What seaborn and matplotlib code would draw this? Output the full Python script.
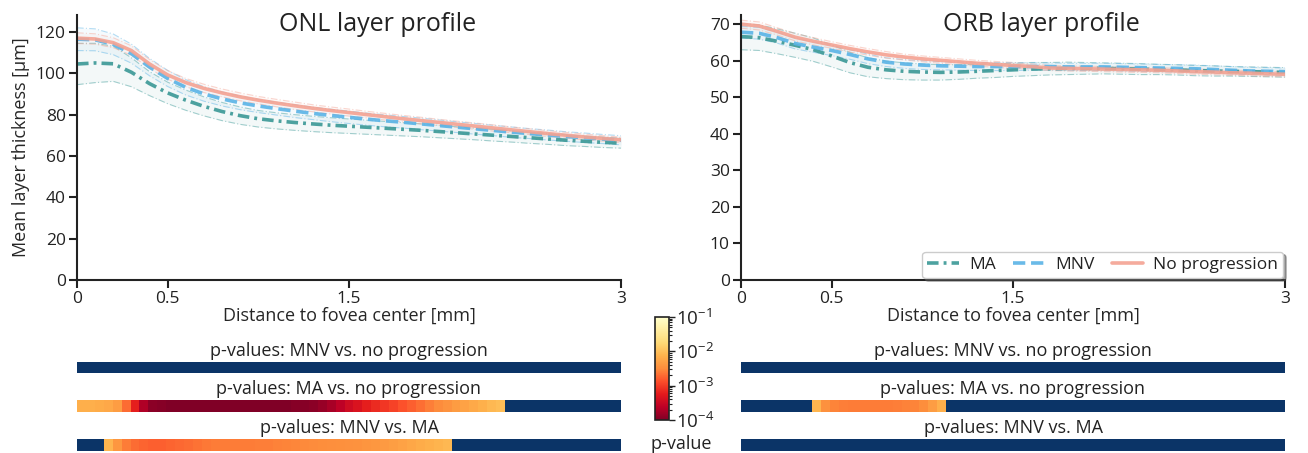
import numpy as np
import pandas as pd
import matplotlib
matplotlib.use("Agg")
import matplotlib.pyplot as plt
import seaborn as sns
from matplotlib.colors import LogNorm
from matplotlib.cm import ScalarMappable
from matplotlib.ticker import LogLocator, LogFormatterSciNotation

# ---------------- data ----------------
dist_mm = [0.0, 0.1, 0.2, 0.3, 0.4, 0.5, 0.6, 0.7, 0.8, 0.9, 1.0,
           1.1, 1.2, 1.3, 1.4, 1.5, 1.6, 1.7, 1.8, 1.9, 2.0,
           2.1, 2.2, 2.3, 2.4, 2.5, 2.6, 2.7, 2.8, 2.9, 3.0]
groups = ["MA", "MNV", "No progression"]

onl_ma = [104.5, 105.0, 104.6, 100.5, 95.0, 90.5, 87.0, 84.0, 81.5, 79.5, 78.0,
          77.0, 76.2, 75.5, 74.9, 74.4, 73.9, 73.4, 72.9, 72.4, 71.8,
          71.2, 70.6, 70.0, 69.4, 68.8, 68.2, 67.6, 67.1, 66.6, 66.2]
onl_mnv = [116.5, 116.2, 114.0, 109.5, 103.0, 97.5, 93.2, 90.0, 87.6, 85.7, 84.2,
           82.9, 81.7, 80.6, 79.6, 78.7, 77.8, 77.0, 76.3, 75.5, 74.7,
           73.9, 73.1, 72.3, 71.5, 70.8, 70.1, 69.4, 68.8, 68.2, 67.6]
onl_noprog = [117.0, 116.6, 114.8, 111.0, 104.5, 99.2, 95.5, 92.7, 90.5, 88.6, 87.0,
              85.6, 84.3, 83.1, 82.0, 81.0, 80.0, 79.0, 78.0, 77.1, 76.2,
              75.3, 74.4, 73.5, 72.6, 71.7, 70.8, 70.0, 69.2, 68.5, 67.8]
onl_ma_sd = [10.0, 9.5, 8.5, 7.0, 5.8, 5.2, 4.9, 4.6, 4.4, 4.2, 4.0,
             3.9, 3.8, 3.7, 3.6, 3.5, 3.4, 3.3, 3.2, 3.1, 3.0,
             2.9, 2.8, 2.8, 2.7, 2.7, 2.6, 2.6, 2.5, 2.5, 2.4]
onl_mnv_sd = [5.5, 5.3, 5.0, 4.6, 4.2, 3.9, 3.7, 3.5, 3.4, 3.3, 3.2,
              3.1, 3.1, 3.0, 3.0, 3.0, 2.9, 2.9, 2.8, 2.8, 2.7,
              2.6, 2.6, 2.5, 2.5, 2.4, 2.4, 2.3, 2.3, 2.2, 2.2]
onl_noprog_sd = [2.6, 2.5, 2.4, 2.3, 2.2, 2.1, 2.0, 2.0, 1.9, 1.9, 1.8,
                 1.8, 1.8, 1.7, 1.7, 1.7, 1.6, 1.6, 1.6, 1.6, 1.5,
                 1.5, 1.5, 1.5, 1.4, 1.4, 1.4, 1.4, 1.4, 1.3, 1.3]

orb_ma = [66.6, 66.3, 65.3, 64.2, 63.0, 61.3, 59.5, 58.2, 57.5, 57.1, 56.9,
          56.8, 56.9, 57.1, 57.3, 57.5, 57.7, 57.8, 57.9, 57.9, 57.9,
          57.8, 57.7, 57.6, 57.5, 57.3, 57.2, 57.1, 57.0, 56.9, 56.8]
orb_mnv = [67.8, 67.5, 66.3, 64.7, 63.7, 62.8, 61.7, 60.5, 59.6, 59.1, 58.8,
           58.6, 58.5, 58.4, 58.4, 58.4, 58.4, 58.4, 58.3, 58.3, 58.3,
           58.2, 58.1, 58.0, 57.9, 57.8, 57.6, 57.4, 57.2, 57.1, 57.0]
orb_noprog = [70.0, 69.5, 68.0, 66.4, 65.3, 64.3, 63.3, 62.4, 61.6, 61.0, 60.5,
              60.1, 59.7, 59.3, 59.0, 58.7, 58.4, 58.0, 57.9, 57.8, 57.7,
              57.6, 57.5, 57.4, 57.2, 57.0, 56.9, 56.7, 56.6, 56.4, 56.3]
orb_ma_sd = [3.6, 3.5, 3.4, 3.3, 3.2, 3.0, 2.8, 2.6, 2.4, 2.3, 2.2,
             2.1, 2.0, 1.9, 1.9, 1.8, 1.8, 1.7, 1.7, 1.6, 1.5,
             1.5, 1.5, 1.4, 1.4, 1.4, 1.4, 1.3, 1.3, 1.3, 1.3]
orb_mnv_sd = [1.6, 1.6, 1.5, 1.5, 1.4, 1.4, 1.3, 1.3, 1.2, 1.2, 1.2,
              1.1, 1.1, 1.1, 1.1, 1.1, 1.0, 1.0, 1.0, 1.0, 1.0,
              1.0, 1.0, 1.0, 1.0, 1.0, 1.0, 1.0, 1.0, 1.0, 1.0]
orb_noprog_sd = [1.1, 1.1, 1.0, 1.0, 1.0, 0.9, 0.9, 0.9, 0.9, 0.8, 0.8,
                 0.8, 0.8, 0.8, 0.8, 0.8, 0.7, 0.7, 0.7, 0.7, 0.7,
                 0.7, 0.7, 0.7, 0.7, 0.7, 0.7, 0.7, 0.7, 0.7, 0.7]

# p-values sampled every 0.05 mm from 0 to 3 mm (61 samples); > 0.1 = not significant
onl_p_mnv_noprog = [0.5, 0.5, 0.5, 0.5, 0.5, 0.5, 0.5, 0.5, 0.5, 0.5,
                    0.5, 0.5, 0.5, 0.5, 0.5, 0.5, 0.5, 0.5, 0.5, 0.5,
                    0.5, 0.5, 0.5, 0.5, 0.5, 0.5, 0.5, 0.5, 0.5, 0.5,
                    0.5, 0.5, 0.5, 0.5, 0.5, 0.5, 0.5, 0.5, 0.5, 0.5,
                    0.5, 0.5, 0.5, 0.5, 0.5, 0.5, 0.5, 0.5, 0.5, 0.5,
                    0.5, 0.5, 0.5, 0.5, 0.5, 0.5, 0.5, 0.5, 0.5, 0.5, 0.5]
onl_p_ma_noprog = [7e-3, 7e-3, 6.5e-3, 6e-3, 4.5e-3, 2e-3, 6e-4, 2e-4, 1.2e-4, 1.1e-4,
                   1e-4, 1e-4, 1e-4, 1e-4, 1e-4, 1e-4, 1e-4, 1e-4, 1e-4, 1e-4,
                   1e-4, 1e-4, 1e-4, 1e-4, 1.1e-4, 1.1e-4, 1.2e-4, 1.4e-4, 1.8e-4, 2.5e-4,
                   3.5e-4, 4.5e-4, 6e-4, 7.5e-4, 9e-4, 1.1e-3, 1.4e-3, 1.7e-3, 2.1e-3, 2.6e-3,
                   3.1e-3, 3.7e-3, 4.4e-3, 5.2e-3, 6.2e-3, 7.2e-3, 8.5e-3, 9.5e-3, 0.3, 0.3,
                   0.3, 0.3, 0.3, 0.3, 0.3, 0.3, 0.3, 0.3, 0.3, 0.3, 0.3]
onl_p_mnv_ma = [0.3, 0.3, 0.3, 8e-3, 4e-3, 2.5e-3, 2e-3, 1.8e-3, 1.7e-3, 1.7e-3,
                1.8e-3, 1.9e-3, 2e-3, 2.2e-3, 2.4e-3, 2.5e-3, 2.5e-3, 2.5e-3, 2.5e-3, 2.5e-3,
                2.6e-3, 2.6e-3, 2.7e-3, 2.8e-3, 2.9e-3, 3e-3, 3.1e-3, 3.2e-3, 3.3e-3, 3.4e-3,
                3.5e-3, 3.6e-3, 3.8e-3, 4e-3, 4.3e-3, 4.7e-3, 5.2e-3, 5.8e-3, 6.5e-3, 7.2e-3,
                7.8e-3, 8.5e-3, 0.3, 0.3, 0.3, 0.3, 0.3, 0.3, 0.3, 0.3,
                0.3, 0.3, 0.3, 0.3, 0.3, 0.3, 0.3, 0.3, 0.3, 0.3, 0.3]
orb_p_mnv_noprog = [0.5, 0.5, 0.5, 0.5, 0.5, 0.5, 0.5, 0.5, 0.5, 0.5,
                    0.5, 0.5, 0.5, 0.5, 0.5, 0.5, 0.5, 0.5, 0.5, 0.5,
                    0.5, 0.5, 0.5, 0.5, 0.5, 0.5, 0.5, 0.5, 0.5, 0.5,
                    0.5, 0.5, 0.5, 0.5, 0.5, 0.5, 0.5, 0.5, 0.5, 0.5,
                    0.5, 0.5, 0.5, 0.5, 0.5, 0.5, 0.5, 0.5, 0.5, 0.5,
                    0.5, 0.5, 0.5, 0.5, 0.5, 0.5, 0.5, 0.5, 0.5, 0.5, 0.5]
orb_p_ma_noprog = [0.3, 0.3, 0.3, 0.3, 0.3, 0.3, 0.3, 0.3, 8e-3, 3.5e-3,
                   2.8e-3, 2.6e-3, 2.5e-3, 2.5e-3, 2.5e-3, 2.5e-3, 2.5e-3, 2.6e-3, 2.7e-3, 2.8e-3,
                   3.2e-3, 4.5e-3, 7e-3, 0.3, 0.3, 0.3, 0.3, 0.3, 0.3, 0.3,
                   0.3, 0.3, 0.3, 0.3, 0.3, 0.3, 0.3, 0.3, 0.3, 0.3,
                   0.3, 0.3, 0.3, 0.3, 0.3, 0.3, 0.3, 0.3, 0.3, 0.3,
                   0.3, 0.3, 0.3, 0.3, 0.3, 0.3, 0.3, 0.3, 0.3, 0.3, 0.3]
orb_p_mnv_ma = [0.5, 0.5, 0.5, 0.5, 0.5, 0.5, 0.5, 0.5, 0.5, 0.5,
                0.5, 0.5, 0.5, 0.5, 0.5, 0.5, 0.5, 0.5, 0.5, 0.5,
                0.5, 0.5, 0.5, 0.5, 0.5, 0.5, 0.5, 0.5, 0.5, 0.5,
                0.5, 0.5, 0.5, 0.5, 0.5, 0.5, 0.5, 0.5, 0.5, 0.5,
                0.5, 0.5, 0.5, 0.5, 0.5, 0.5, 0.5, 0.5, 0.5, 0.5,
                0.5, 0.5, 0.5, 0.5, 0.5, 0.5, 0.5, 0.5, 0.5, 0.5, 0.5]

strip_titles = ["p-values: MNV vs. no progression",
                "p-values: MA vs. no progression",
                "p-values: MNV vs. MA"]
x_ticks = [0, 0.5, 1.5, 3]
x_ticklabels = ["0", "0.5", "1.5", "3"]

# ---------------- style ----------------
sns.set_theme(style="ticks")
FONT = "Open Sans"
plt.rcParams["font.family"] = [FONT, "DejaVu Sans"]
plt.rcParams["mathtext.fontset"] = "custom"
plt.rcParams["mathtext.rm"] = FONT
plt.rcParams["mathtext.it"] = FONT
plt.rcParams["axes.edgecolor"] = "#222222"
plt.rcParams["axes.linewidth"] = 1.5
plt.rcParams["text.color"] = "#222222"
plt.rcParams["xtick.color"] = "#222222"
plt.rcParams["ytick.color"] = "#222222"

palette = {"MA": "#3a9896", "MNV": "#5ab3e6", "No progression": "#f4a292"}
dashes = {"MA": (3.2, 1.4, 0.8, 1.4), "MNV": (3.4, 1.6), "No progression": ""}

cmap = plt.get_cmap("YlOrRd_r").copy()
cmap.set_over("#0b3467")
cmap.set_under("#800026")
norm = LogNorm(vmin=1e-4, vmax=1e-1)

W, H = 1308, 453
fig = plt.figure(figsize=(W / 100, H / 100), dpi=100)


def px_axes(x0, x1, ytop, ybot):
    return fig.add_axes([x0 / W, 1 - ybot / H, (x1 - x0) / W, (ybot - ytop) / H])


def profile(ax, means, sds, title, ylim, yticks, legend):
    rows = []
    for g, m in zip(groups, means):
        for xv, yv in zip(dist_mm, m):
            rows.append({"dist": xv, "thickness": yv, "group": g})
    df = pd.DataFrame(rows)
    for g, m, s in zip(groups, means, sds):
        m = np.asarray(m)
        s = np.asarray(s)
        c = palette[g]
        ax.fill_between(dist_mm, m - s, m + s, color=c, alpha=0.06, lw=0)
        for b in (m - s, m + s):
            ax.plot(dist_mm, b, color=c, lw=0.8, alpha=0.45, ls=(0, (6, 2, 1, 2)))
    sns.lineplot(data=df, x="dist", y="thickness", hue="group", style="group",
                 palette=palette, dashes=dashes, linewidth=2.6, ax=ax,
                 legend=legend, alpha=0.9)
    ax.set_xlim(0, 3)
    ax.set_ylim(*ylim)
    ax.set_yticks(yticks)
    ax.set_xticks(x_ticks)
    ax.set_xticklabels(x_ticklabels)
    ax.tick_params(labelsize=12.5, length=6, width=1.5, pad=2)
    ax.set_xlabel("Distance to fovea center [mm]", fontsize=13, labelpad=0)
    ax.text(0.552, 0.94, title, transform=ax.transAxes, ha="center",
            va="baseline", fontsize=18)
    sns.despine(ax=ax)


ax1 = px_axes(77, 621, 15, 280)
profile(ax1, [onl_ma, onl_mnv, onl_noprog], [onl_ma_sd, onl_mnv_sd, onl_noprog_sd],
        "ONL layer profile", (0, 128.2), [0, 20, 40, 60, 80, 100, 120], False)
ax1.set_ylabel("Mean layer thickness [µm]", fontsize=13, labelpad=4)

ax2 = px_axes(741, 1285, 15, 280)
profile(ax2, [orb_ma, orb_mnv, orb_noprog], [orb_ma_sd, orb_mnv_sd, orb_noprog_sd],
        "ORB layer profile", (0, 72.5), [0, 10, 20, 30, 40, 50, 60, 70], "auto")
ax2.set_ylabel("")
leg = ax2.legend(loc="lower right", ncol=3, fontsize=12.5, frameon=True, shadow=True,
                 fancybox=True, borderaxespad=0.1, handlelength=1.8,
                 columnspacing=1.0, handletextpad=0.6, borderpad=0.3, title=None)
leg.get_frame().set_edgecolor("#cccccc")
for h in leg.get_lines():
    h.set_linewidth(2.6)

# ---------------- p-value strips ----------------
strip_rows = [(362, 373), (400, 412), (439, 451)]
for (x0, x1), pv_list in [((77, 621), [onl_p_mnv_noprog, onl_p_ma_noprog, onl_p_mnv_ma]),
                          ((741, 1285), [orb_p_mnv_noprog, orb_p_ma_noprog, orb_p_mnv_ma])]:
    for (yt, yb), pv, ttl in zip(strip_rows, pv_list, strip_titles):
        sax = px_axes(x0, x1, yt, yb)
        sns.heatmap(np.array([pv]), ax=sax, cmap=cmap, norm=norm, cbar=False,
                    xticklabels=False, yticklabels=False)
        sax.set_title(ttl, fontsize=13, pad=4)

# ---------------- colorbar ----------------
cax = px_axes(655, 669, 317, 420)
cb = fig.colorbar(ScalarMappable(norm=norm, cmap=cmap), cax=cax)
cb.outline.set_edgecolor("#222222")
cb.outline.set_linewidth(1.2)
cb.ax.yaxis.set_major_locator(LogLocator(base=10))
cb.ax.yaxis.set_major_formatter(LogFormatterSciNotation())
cb.ax.tick_params(labelsize=13.5, length=4, width=1.0, pad=1)
cb.ax.tick_params(which="minor", length=2.5, width=0.8)
fig.text(681 / W, 1 - 444 / H, "p-value", ha="center", va="center", fontsize=13)

fig.savefig("out.png", dpi=100)
